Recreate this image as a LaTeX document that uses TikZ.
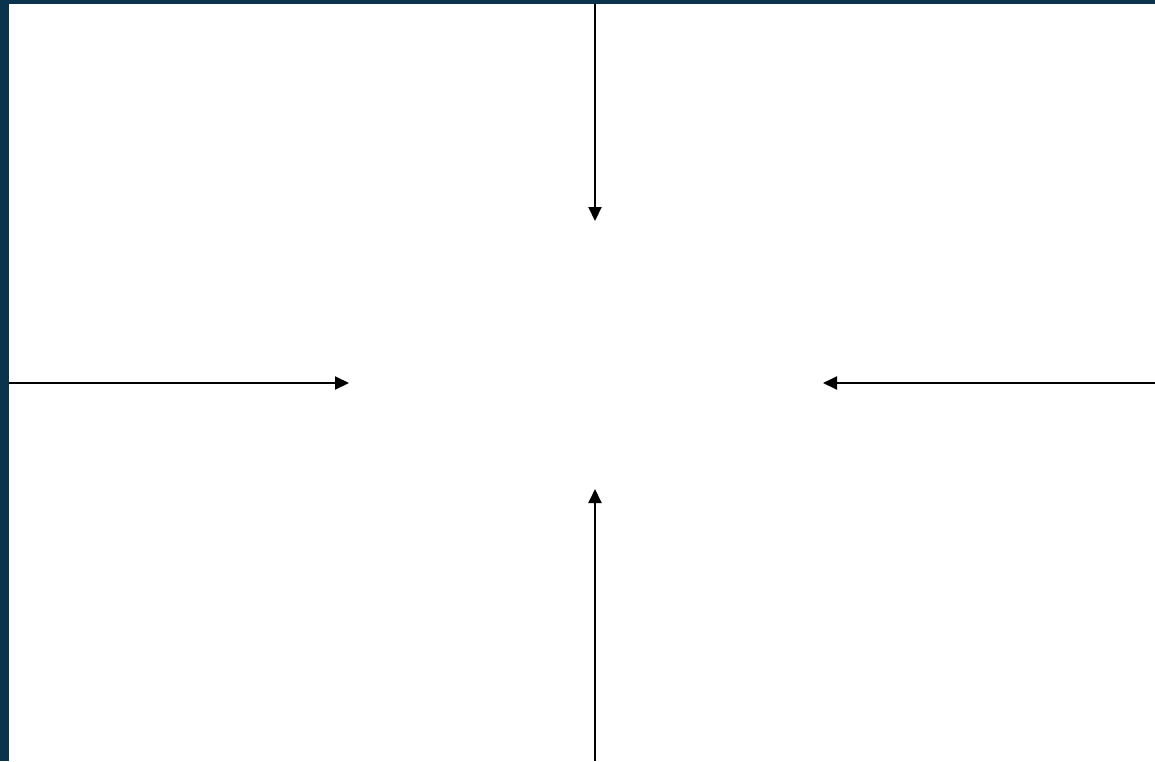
\documentclass[tikz,border=0pt]{standalone}
\usetikzlibrary{arrows.meta}
\definecolor{frame}{RGB}{10,52,78}
\tikzset{
  inarrow/.style={draw=black, line width=2pt, -{Triangle[length=14pt,width=13pt]}},
}
\begin{document}
\begin{tikzpicture}[x=1pt,y=-1pt]
\useasboundingbox (0,0) rectangle (1155,761);
\fill[frame] (0,0) rectangle (1155,761);
\fill[white] (9,4) rectangle (1155,761);
\coordinate (topS) at (595,4);
\coordinate (topE) at (595,221);
\coordinate (botS) at (595,761);
\coordinate (botE) at (595,489);
\coordinate (leftS) at (9,383);
\coordinate (leftE) at (349,383);
\coordinate (rightS) at (1155,383);
\coordinate (rightE) at (823,383);
\draw[inarrow] (topS) -- (topE);
\draw[inarrow] (botS) -- (botE);
\draw[inarrow] (leftS) -- (leftE);
\draw[inarrow] (rightS) -- (rightE);
\end{tikzpicture}
\end{document}
